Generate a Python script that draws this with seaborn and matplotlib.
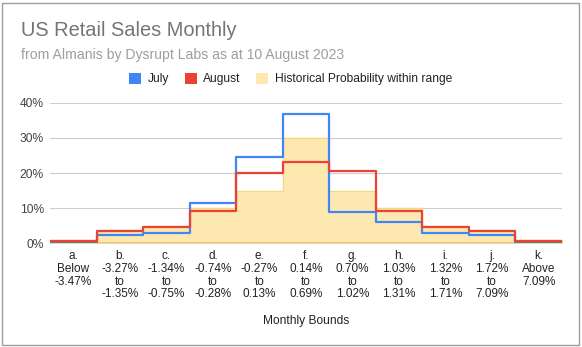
import numpy as np
import pandas as pd
import matplotlib
matplotlib.use("Agg")
import matplotlib.pyplot as plt
import matplotlib.patches as mpatches
import seaborn as sns

# ---- data ----
categories = ["a", "b", "c", "d", "e", "f", "g", "h", "i", "j", "k"]
tick_labels = [
    "a.\nBelow\n-3.47%",
    "b.\n-3.27%\nto\n-1.35%",
    "c.\n-1.34%\nto\n-0.75%",
    "d.\n-0.74%\nto\n-0.28%",
    "e.\n-0.27%\nto\n0.13%",
    "f.\n0.14%\nto\n0.69%",
    "g.\n0.70%\nto\n1.02%",
    "h.\n1.03%\nto\n1.31%",
    "i.\n1.32%\nto\n1.71%",
    "j.\n1.72%\nto\n7.09%",
    "k.\nAbove\n7.09%",
]
july = [0.3, 2.4, 2.8, 11.4, 24.6, 36.9, 8.9, 6.0, 2.8, 2.3, 0.4]
august = [0.7, 3.6, 4.6, 9.1, 20.0, 23.0, 20.5, 9.1, 4.7, 3.6, 0.7]
historical = [1.0, 3.8, 5.0, 10.0, 15.0, 30.0, 15.0, 10.0, 5.0, 3.8, 1.0]
y_ticks = [0, 10, 20, 30, 40]

BLUE = "#4285F4"
RED = "#EA4335"
YELLOW_FILL = "#FDE9B0"
YELLOW_EDGE = "#F9D77E"

df = pd.DataFrame({
    "pos": np.arange(len(categories)),
    "july": july,
    "august": august,
    "historical": historical,
})

sns.set_style("white")
plt.rcParams["font.family"] = ["Liberation Sans", "DejaVu Sans"]

W, H = 582, 347
fig = plt.figure(figsize=(W / 100, H / 100), dpi=100)
ax = fig.add_axes([50 / W, 1 - 243.3 / H, (562 - 50) / W, (243.3 - 102.7) / H])

def px(p):
    return p * 0.72

# gridlines
for t in y_ticks[1:]:
    ax.axhline(t, color="#CCCCCC", lw=0.8, zorder=0)

sns.histplot(data=df, x="pos", weights="historical", discrete=True,
             element="step", fill=True, color=YELLOW_FILL, alpha=1.0,
             edgecolor=YELLOW_EDGE, linewidth=1.0, ax=ax, zorder=1)
sns.histplot(data=df, x="pos", weights="july", discrete=True,
             element="step", fill=False, color=BLUE, linewidth=1.6,
             ax=ax, zorder=3)
sns.histplot(data=df, x="pos", weights="august", discrete=True,
             element="step", fill=False, color=RED, linewidth=1.6,
             ax=ax, zorder=4)

ax.axhline(0, color="#5A4A2A", lw=1.0, zorder=5)

ax.set_xlim(-0.5, len(categories) - 0.5)
ax.set_ylim(0, 40)
ax.set_yticks(y_ticks)
ax.set_yticklabels([f"{t}%" for t in y_ticks])
ax.set_xticks(np.arange(len(categories)))
ax.set_xticklabels(tick_labels, linespacing=1.07)
ax.tick_params(axis="y", length=0, pad=4.5, labelsize=px(12), labelcolor="#444444")
ax.tick_params(axis="x", length=0, pad=5, labelsize=px(11.7), labelcolor="#222222")
for lab in ax.get_xticklabels():
    lab.set_verticalalignment("top")
ax.set_xlabel("")
ax.set_ylabel("")
for s in ax.spines.values():
    s.set_visible(False)
ax.set_facecolor("none")

# titles
fig.text(20.7 / W, 1 - 36 / H, "US Retail Sales Monthly", fontsize=px(20),
         color="#757575", va="baseline", ha="left")
fig.text(20.7 / W, 1 - 59.3 / H, "from Almanis by Dysrupt Labs as at 10 August 2023",
         fontsize=px(14), color="#9E9E9E", va="baseline", ha="left")

# legend
handles = [
    mpatches.Patch(facecolor=BLUE, edgecolor="none", label="July"),
    mpatches.Patch(facecolor=RED, edgecolor="none", label="August"),
    mpatches.Patch(facecolor=YELLOW_FILL, edgecolor="none",
                   label="Historical Probability within range"),
]
fig.legend(handles=handles, loc="center", bbox_to_anchor=(290.7 / W, 1 - 79 / H),
           ncol=3, frameon=False, fontsize=px(12), handlelength=1.0,
           handleheight=1.0, handletextpad=0.55, columnspacing=1.3,
           borderaxespad=0, borderpad=0, labelcolor="#222222")

fig.text(306 / W, 1 - 321 / H, "Monthly Bounds", fontsize=px(12),
         color="#222222", ha="center", va="center")

# outer border
fig.patches.append(mpatches.Rectangle((2 / W, 2 / H), (W - 5) / W, (H - 4.5) / H,
                                      transform=fig.transFigure, fill=False,
                                      edgecolor="#9E9E9E", lw=1.0))

fig.savefig("out.png", dpi=100)
